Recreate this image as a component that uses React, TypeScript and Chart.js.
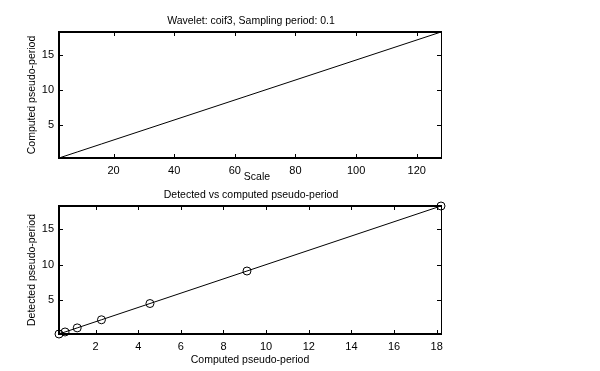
import React, { useEffect, useRef } from "react";
import { Chart, registerables } from "chart.js";

Chart.register(...registerables);

// ---- data ----
const scales = [2, 4, 8, 16, 32, 64, 128];
const computedPeriods = [0.284, 0.569, 1.138, 2.276, 4.551, 9.102, 18.204];
const detectedPeriods = [0.284, 0.569, 1.138, 2.276, 4.551, 9.102, 18.204];

const topXTicks = [20, 40, 60, 80, 100, 120];
const periodTicks = [5, 10, 15];
const bottomXTicks = [2, 4, 6, 8, 10, 12, 14, 16, 18];

const topTitle = "Wavelet: coif3, Sampling period: 0.1";
const topXLabel = "Scale";
const topYLabel = "Computed pseudo-period";
const bottomTitle = "Detected vs computed pseudo-period";
const bottomXLabel = "Computed pseudo-period";
const bottomYLabel = "Detected pseudo-period";

const FONT = "'Liberation Sans', Arial, Helvetica, sans-serif";
const FS = 11;
const LABEL_FS = 10.5;

type Frame = {
  title: string;
  xLabel: string;
  yLabel: string;
  xLabelDx: number;
  xLabelDy: number;
};

function framePlugin(f: Frame) {
  return {
    id: "matlabFrame",
    beforeDatasetsDraw(chart: any) {
      const { ctx, chartArea: a } = chart;
      const xs = chart.scales.x;
      const ys = chart.scales.y;
      ctx.save();
      ctx.strokeStyle = "#000";
      // ticks inward
      ctx.lineWidth = 1;
      const tl = 4;
      ctx.beginPath();
      xs.ticks.forEach((t: any) => {
        const px = Math.round(xs.getPixelForValue(t.value)) + 0.5;
        ctx.moveTo(px, a.bottom);
        ctx.lineTo(px, a.bottom - tl);
        ctx.moveTo(px, a.top);
        ctx.lineTo(px, a.top + tl);
      });
      ys.ticks.forEach((t: any) => {
        const py = Math.round(ys.getPixelForValue(t.value)) + 0.5;
        ctx.moveTo(a.left, py);
        ctx.lineTo(a.left + tl, py);
        ctx.moveTo(a.right, py);
        ctx.lineTo(a.right - tl, py);
      });
      ctx.stroke();
      // box
      ctx.lineWidth = 1;
      ctx.beginPath();
      ctx.moveTo(a.right + 0.5, a.top);
      ctx.lineTo(a.right + 0.5, a.bottom);
      ctx.stroke();
      ctx.lineWidth = 2;
      ctx.beginPath();
      ctx.moveTo(a.left, a.top);
      ctx.lineTo(a.right + 1, a.top);
      ctx.moveTo(a.left, a.top - 1);
      ctx.lineTo(a.left, a.bottom + 1);
      ctx.moveTo(a.left, a.bottom);
      ctx.lineTo(a.right + 1, a.bottom);
      ctx.stroke();
      ctx.restore();
    },
    afterDraw(chart: any) {
      const { ctx, chartArea: a } = chart;
      const cx = (a.left + a.right) / 2;
      const cy = (a.top + a.bottom) / 2;
      ctx.save();
      ctx.fillStyle = "#000";
      ctx.font = `${LABEL_FS}px ${FONT}`;
      ctx.textAlign = "center";
      ctx.textBaseline = "middle";
      ctx.fillText(f.title, cx + 1, a.top - 11);
      ctx.fillText(f.xLabel, cx + f.xLabelDx, a.bottom + f.xLabelDy);
      ctx.translate(32, cy);
      ctx.rotate(-Math.PI / 2);
      ctx.fillText(f.yLabel, 0, 0);
      ctx.restore();
    },
  };
}

function makeChart(
  canvas: HTMLCanvasElement,
  xs: number[],
  ys: number[],
  xTicks: number[],
  yTicks: number[],
  xRange: [number, number],
  yRange: [number, number],
  pad: { top: number; right: number },
  xAxisHeight: number,
  markers: boolean,
  frame: Frame
) {
  return new Chart(canvas, {
    type: "line",
    data: {
      datasets: [
        {
          data: xs.map((x, i) => ({ x, y: ys[i] })),
          borderColor: "#000",
          borderWidth: 1,
          backgroundColor: "rgba(0,0,0,0)",
          pointRadius: markers ? 4 : 0,
          pointBorderColor: "#000",
          pointBorderWidth: 1,
          pointBackgroundColor: "rgba(0,0,0,0)",
          tension: 0,
          fill: false,
          clip: false as any,
        },
      ],
    },
    options: {
      responsive: false,
      animation: false,
      devicePixelRatio: 1,
      layout: { padding: { left: 0, top: pad.top, right: pad.right, bottom: 0 } },
      plugins: {
        legend: { display: false },
        title: { display: false },
        tooltip: { enabled: false },
      },
      scales: {
        x: {
          type: "linear",
          min: xRange[0],
          max: xRange[1],
          grid: { display: false, drawTicks: false },
          border: { display: false },
          afterBuildTicks: (s: any) => {
            s.ticks = xTicks.map((v) => ({ value: v }));
          },
          afterFit: (s: any) => {
            s.height = xAxisHeight;
          },
          ticks: {
            color: "#000",
            font: { family: FONT, size: FS },
            padding: 6,
            maxRotation: 0,
            autoSkip: false,
          },
        },
        y: {
          type: "linear",
          min: yRange[0],
          max: yRange[1],
          grid: { display: false, drawTicks: false },
          border: { display: false },
          afterBuildTicks: (s: any) => {
            s.ticks = yTicks.map((v) => ({ value: v }));
          },
          afterFit: (s: any) => {
            s.width = 59;
          },
          ticks: {
            color: "#000",
            font: { family: FONT, size: FS },
            padding: 5,
            autoSkip: false,
          },
        },
      },
    } as any,
    plugins: [framePlugin(frame)],
  });
}

export default function App() {
  const topRef = useRef<HTMLCanvasElement>(null);
  const botRef = useRef<HTMLCanvasElement>(null);

  useEffect(() => {
    const pMin = computedPeriods[0];
    const pMax = computedPeriods[computedPeriods.length - 1];
    const c1 = makeChart(
      topRef.current!,
      scales,
      computedPeriods,
      topXTicks,
      periodTicks,
      [scales[0], scales[scales.length - 1]],
      [pMin, pMax],
      { top: 32, right: 159 },
      27,
      false,
      { title: topTitle, xLabel: topXLabel, yLabel: topYLabel, xLabelDx: 7, xLabelDy: 19 }
    );
    const c2 = makeChart(
      botRef.current!,
      computedPeriods,
      detectedPeriods,
      bottomXTicks,
      periodTicks,
      [pMin, pMax],
      [detectedPeriods[0], detectedPeriods[detectedPeriods.length - 1]],
      { top: 21, right: 159 },
      37,
      true,
      { title: bottomTitle, xLabel: bottomXLabel, yLabel: bottomYLabel, xLabelDx: 0, xLabelDy: 26 }
    );
    return () => {
      c1.destroy();
      c2.destroy();
    };
  }, []);

  return (
    <div
      style={{
        position: "absolute",
        left: 0,
        top: 0,
        width: 600,
        height: 371,
        background: "#fff",
        overflow: "hidden",
      }}
    >
      <canvas
        ref={topRef}
        width={600}
        height={185}
        style={{ position: "absolute", left: 0, top: 0, width: 600, height: 185 }}
      />
      <canvas
        ref={botRef}
        width={600}
        height={186}
        style={{ position: "absolute", left: 0, top: 185, width: 600, height: 186 }}
      />
    </div>
  );
}
